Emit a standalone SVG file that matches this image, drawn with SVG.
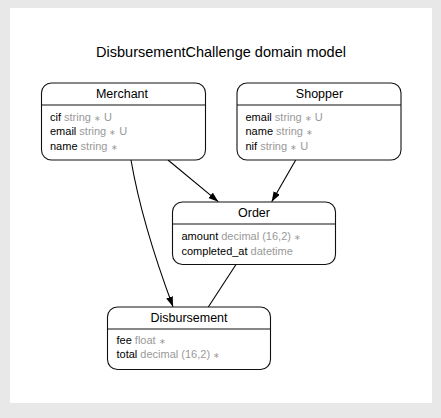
<svg xmlns="http://www.w3.org/2000/svg" width="441" height="418" viewBox="0 0 441 418">
<defs>
<style>
text{font-family:"Liberation Sans",Arial,Helvetica,sans-serif;}
.box{fill:#fff;stroke:#111;stroke-width:1.1;}
.sep{stroke:#111;stroke-width:1.1;}
.title{font-size:14.5px;fill:#000;text-anchor:middle;}
.ntitle{font-size:12.5px;fill:#000;text-anchor:middle;}
.attr{font-size:11px;fill:#000;}
.t{fill:#999;}
.s{font-size:8px;fill:#999;}
.edge{fill:none;stroke:#000;stroke-width:1.1;}
</style>
<marker id="arr" markerUnits="userSpaceOnUse" markerWidth="11" markerHeight="8" refX="10" refY="3.5" orient="auto">
<path d="M0,0 L10,3.5 L0,7 z" fill="#000"/>
</marker>
</defs>
<rect x="0" y="0" width="441" height="418" fill="#e8e8e8"/>
<rect x="10" y="8" width="422" height="395" fill="#fff"/>
<text class="title" x="221" y="56.5">DisbursementChallenge domain model</text>

<g id="connectors">
<path class="edge" d="M168,160 L218.3,201.7" marker-end="url(#arr)"/>
<path class="edge" d="M295.7,160 L271.7,201.7" marker-end="url(#arr)"/>
<path class="edge" d="M131,160 C137,195 150,245 173,306.7" marker-end="url(#arr)"/>
<path class="edge" d="M236,264.5 L208.3,307"/>
</g>

<g id="Merchant">
<rect class="box" x="41.5" y="83" width="164" height="77" rx="10"/>
<line class="sep" x1="41.5" y1="105" x2="205.5" y2="105"/>
<text class="ntitle" x="122" y="98">Merchant</text>
<text class="attr" x="50" y="120.5">cif <tspan class="t">string </tspan><tspan class="s">∗</tspan><tspan class="t"> U</tspan></text>
<text class="attr" x="50" y="135">email <tspan class="t">string </tspan><tspan class="s">∗</tspan><tspan class="t"> U</tspan></text>
<text class="attr" x="50" y="149.5">name <tspan class="t">string </tspan><tspan class="s">∗</tspan></text>
</g>

<g id="Shopper">
<rect class="box" x="237" y="83" width="164" height="77" rx="10"/>
<line class="sep" x1="237" y1="105" x2="401" y2="105"/>
<text class="ntitle" x="319.5" y="98">Shopper</text>
<text class="attr" x="245.5" y="120.5">email <tspan class="t">string </tspan><tspan class="s">∗</tspan><tspan class="t"> U</tspan></text>
<text class="attr" x="245.5" y="135">name <tspan class="t">string </tspan><tspan class="s">∗</tspan></text>
<text class="attr" x="245.5" y="149.5">nif <tspan class="t">string </tspan><tspan class="s">∗</tspan><tspan class="t"> U</tspan></text>
</g>

<g id="Order">
<rect class="box" x="172.5" y="202" width="163" height="62.5" rx="10"/>
<line class="sep" x1="172.5" y1="224" x2="335.5" y2="224"/>
<text class="ntitle" x="254" y="217">Order</text>
<text class="attr" x="181.5" y="240">amount <tspan class="t">decimal (16,2) </tspan><tspan class="s">∗</tspan></text>
<text class="attr" x="181.5" y="254.5">completed_at <tspan class="t">datetime</tspan></text>
</g>

<g id="Disbursement">
<rect class="box" x="107.5" y="307" width="163" height="62.5" rx="10"/>
<line class="sep" x1="107.5" y1="329" x2="270.5" y2="329"/>
<text class="ntitle" x="189" y="321.5">Disbursement</text>
<text class="attr" x="116.5" y="343.5">fee <tspan class="t">float </tspan><tspan class="s">∗</tspan></text>
<text class="attr" x="116.5" y="358">total <tspan class="t">decimal (16,2) </tspan><tspan class="s">∗</tspan></text>
</g>
</svg>
